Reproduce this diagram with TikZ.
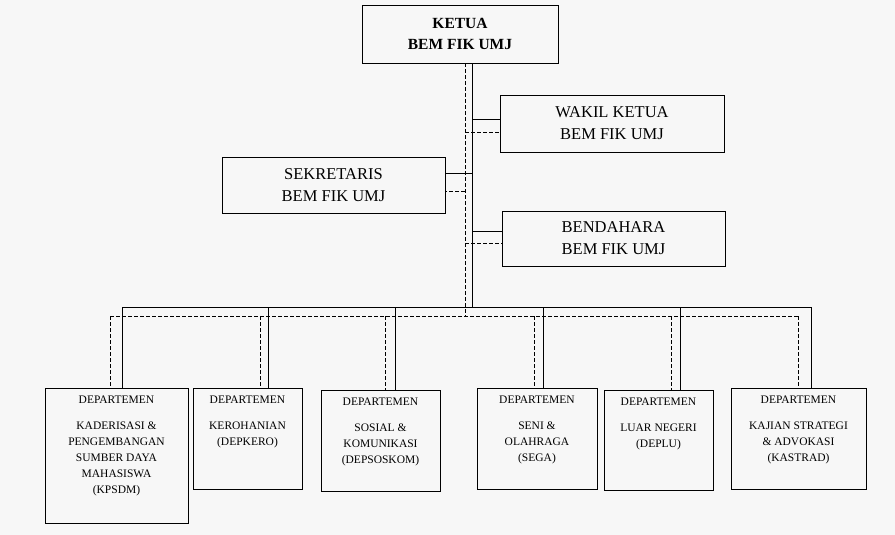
\documentclass[tikz,border=0pt]{standalone}
\usepackage{fontspec}
\setmainfont{Liberation Serif}
\usetikzlibrary{positioning}
\tikzset{
  box/.style={draw, rectangle, inner sep=0pt},
  big/.style={align=center, font=\fontsize{16.5}{22}\selectfont},
  dept/.style={align=center, anchor=north, font=\fontsize{11.5}{16}\selectfont},
  dashline/.style={dash pattern=on 4pt off 2pt}
}
\begin{document}
\begin{tikzpicture}[x=1pt, y=-1pt, line width=0.8pt]
  \fill[white!97!black] (0,0) rectangle (895,535);
  \useasboundingbox (0,0) rectangle (895,535);

  % top boxes
  \node[box, minimum width=196pt, minimum height=58pt, big, font=\fontsize{15.5}{21}\selectfont\bfseries] (ketua) at (460,34) {KETUA\\BEM FIK UMJ};
  \node[box, minimum width=224pt, minimum height=57pt, big] (wakil) at (612,123.5) {WAKIL KETUA\\BEM FIK UMJ};
  \node[box, minimum width=223pt, minimum height=56pt, big] (sekr) at (333.5,185) {SEKRETARIS\\BEM FIK UMJ};
  \node[box, minimum width=223pt, minimum height=55pt, big] (bend) at (613.5,238.5) {BENDAHARA\\BEM FIK UMJ};

  % trunk
  \coordinate (sj) at (472,307);
  \coordinate (dj) at (465,316);
  \draw (ketua.south -| sj) -- (sj);
  \draw[dashline] (ketua.south -| dj) -- (dj);
  \draw (sj |- 0,119) -- (wakil.west |- 0,119);
  \draw[dashline] (dj |- 0,132) -- (wakil.west |- 0,132);
  \draw (sj |- 0,173) -- (sekr.east |- 0,173);
  \draw[dashline] (dj |- 0,191) -- (sekr.east |- 0,191);
  \draw (sj |- 0,231) -- (bend.west |- 0,231);
  \draw[dashline] (dj |- 0,243) -- (bend.west |- 0,243);

  % departments
  \foreach \n/\xa/\xb/\ya/\yb/\sx/\dx/\txt in {
      1/45/188/388/523/122/110/{KADERISASI \&\\PENGEMBANGAN\\SUMBER DAYA\\MAHASISWA\\(KPSDM)},
      2/193/302/388/489/268/260/{KEROHANIAN\\(DEPKERO)},
      3/321/440/390/491/395/385/{SOSIAL \&\\KOMUNIKASI\\(DEPSOSKOM)},
      4/477/597/388/489/543/534/{SENI \&\\OLAHRAGA\\(SEGA)},
      5/604/713/390/490/680/671/{LUAR NEGERI\\(DEPLU)},
      6/731/866/388/489/811/798/{KAJIAN STRATEGI\\\& ADVOKASI\\(KASTRAD)}} {
    \node[box, minimum width=\xb pt-\xa pt, minimum height=\yb pt-\ya pt] (d\n) at ({(\xa+\xb)/2},{(\ya+\yb)/2}) {};
    \node[dept] (d\n t) at ([yshift=-5pt]d\n.north) {DEPARTEMEN\\[10pt]\txt};
    \draw (sj -| \sx,0) -- (d\n.north -| \sx,0);
    \draw[dashline] (dj -| \dx,0) -- (d\n.north -| \dx,0);
  }
  \draw (sj -| 122,0) -- (sj -| 811,0);
  \draw[dashline] (dj -| 110,0) -- (dj -| 798,0);
\end{tikzpicture}
\end{document}
